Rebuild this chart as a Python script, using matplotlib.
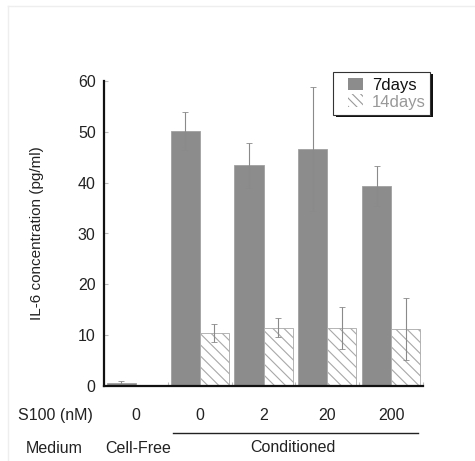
import matplotlib
matplotlib.use("Agg")
import matplotlib.pyplot as plt
from matplotlib.patches import Rectangle
from matplotlib.lines import Line2D
import numpy as np

plt.rcParams['font.family'] = ['Liberation Sans', 'DejaVu Sans']
plt.rcParams['hatch.linewidth'] = 0.8

s100_labels = ["0", "0", "2", "20", "200"]
series_names = ["7days", "14days"]
days7 = [0.5, 50.2, 43.4, 46.7, 39.3]
days7_err = [0.4, 3.7, 4.5, 12.2, 3.9]
days14 = [0.1, 10.4, 11.5, 11.4, 11.2]
days14_err = [0.1, 1.8, 1.9, 4.2, 6.1]
yticks = [0, 10, 20, 30, 40, 50, 60]

W, H = 475, 461
fig = plt.figure(figsize=(W / 100, H / 100), dpi=100)
ax = fig.add_axes([104 / W, (H - 386) / H, (423 - 104) / W, (386 - 81) / H])

x = np.arange(len(days7))
bw = 0.455
ax.bar(x - bw / 2, days7, bw, color='#8c8c8c', edgecolor='#a0a0a0', linewidth=0.6, label=series_names[0])
ax.bar(x + bw / 2, days14, bw, color='white', edgecolor='#a8a8a8', linewidth=0.6, hatch='\\\\\\', label=series_names[1])
ax.errorbar(x - bw / 2, days7, yerr=days7_err, fmt='none', ecolor='#8a8a8a', elinewidth=0.8, capsize=2, capthick=0.6)
ax.errorbar(x + bw / 2, days14, yerr=days14_err, fmt='none', ecolor='#8a8a8a', elinewidth=0.8, capsize=2, capthick=0.6)

ax.set_xlim(-0.5, 4.5)
ax.set_ylim(0, 60)
ax.set_yticks(yticks)
ax.set_yticklabels([str(v) for v in yticks], fontsize=11.5, color='#222222')
ax.tick_params(axis='y', direction='in', length=3, color='#bbbbbb', pad=6)
ax.set_xticks(np.arange(-0.5, 4.6, 1))
ax.set_xticklabels([])
ax.tick_params(axis='x', direction='in', length=3, color='#bbbbbb')
for s in ['top', 'right']:
    ax.spines[s].set_visible(False)
for s in ['left', 'bottom']:
    ax.spines[s].set_linewidth(1.6)
    ax.spines[s].set_color('#111111')
ax.set_ylabel("IL-6 concentration (pg/ml)", fontsize=11, color='#222222', labelpad=24)

# legend box drawn in figure pixel coordinates
def fx(px):
    return px / W

def fy(py):
    return 1 - py / H

lx0, lx1, ly0, ly1 = 333, 430, 72, 115
fig.add_artist(Rectangle((fx(lx0 + 2.5), fy(ly1 + 2.5)), fx(lx1 - lx0), (ly1 - ly0) / H,
                         transform=fig.transFigure, facecolor='#111111', edgecolor='none', zorder=4))
fig.add_artist(Rectangle((fx(lx0), fy(ly1)), fx(lx1 - lx0), (ly1 - ly0) / H,
                         transform=fig.transFigure, facecolor='white', edgecolor='#333333', lw=0.8, zorder=5))
fig.add_artist(Rectangle((fx(348), fy(90)), fx(15), 12 / H, transform=fig.transFigure,
                         facecolor='#8c8c8c', edgecolor='none', zorder=6))
fig.add_artist(Rectangle((fx(348), fy(107)), fx(15), 13 / H, transform=fig.transFigure,
                         facecolor='white', edgecolor='#999999', lw=0, hatch='\\\\\\\\', zorder=6))
fig.text(fx(372), fy(85), series_names[0], fontsize=12, ha='left', va='center', color='#111111', zorder=7)
fig.text(fx(372), fy(102), series_names[1], fontsize=12, ha='left', va='center', color='#999999', zorder=7)

# bottom annotation rows
fs = 11.5
fig.text(fx(55), fy(415), "S100 (nM)", fontsize=fs, ha='center', va='center', color='#222222')
for xi, lab in zip(x, s100_labels):
    xd = ax.transData.transform((xi, 0))[0]
    fig.text(xd / W, fy(415), lab, fontsize=fs, ha='center', va='center', color='#222222')
fig.text(fx(54), fy(448), "Medium", fontsize=fs, ha='center', va='center', color='#222222')
fig.text(fx(138), fy(448), "Cell-Free", fontsize=fs, ha='center', va='center', color='#222222')
fig.text(fx(293), fy(447), "Conditioned", fontsize=fs, ha='center', va='center', color='#222222')
fig.add_artist(Line2D([fx(173), fx(418)], [fy(433), fy(433)], color='#222222', lw=1.0))

# faint border lines of the source image
fig.add_artist(Line2D([fx(8), 1], [fy(6), fy(6)], color='#eeeeee', lw=1.0))
fig.add_artist(Line2D([fx(8), fx(8)], [0, fy(6)], color='#eeeeee', lw=1.0))

fig.savefig("out.png", dpi=100)
